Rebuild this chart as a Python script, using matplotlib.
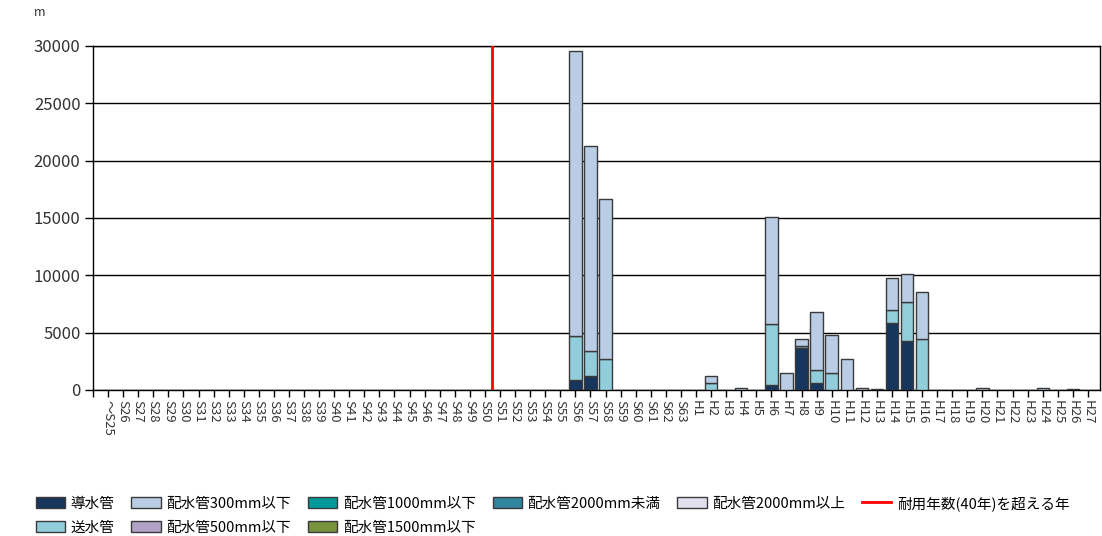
import numpy as np
import matplotlib
matplotlib.use("Agg")
import matplotlib.pyplot as plt
from matplotlib.patches import Patch
from matplotlib.lines import Line2D

plt.rcParams['font.family'] = ['Noto Sans CJK JP', 'DejaVu Sans']

# categories: ~S25, S26..S63, H1..H27
years = ['～S25'] + ['S%d' % n for n in range(26, 64)] + ['H%d' % n for n in range(1, 28)]

series_names = ['導水管', '送水管', '配水管300mm以下', '配水管500mm以下',
                '配水管1000mm以下', '配水管1500mm以下', '配水管2000mm未満', '配水管2000mm以上']
series_colors = ['#17365D', '#92CDDC', '#B9CDE5', '#B3A2C7',
                 '#009999', '#77933C', '#31859C', '#E4DFEC']

# values (m) by year label
dousui = {'S56': 900, 'S57': 1220, 'H6': 430, 'H8': 3700, 'H9': 580,
          'H13': 100, 'H14': 5820, 'H15': 4260, 'H26': 100}
sousui = {'S56': 3790, 'S57': 2140, 'S58': 2660, 'H2': 580, 'H6': 5300,
          'H8': 100, 'H9': 1190, 'H10': 1450, 'H14': 1160, 'H15': 3380, 'H16': 4490}
hai300 = {'S56': 24870, 'S57': 17890, 'S58': 13960, 'H2': 640, 'H4': 200,
          'H6': 9320, 'H7': 1450, 'H8': 690, 'H9': 5060, 'H10': 3380, 'H11': 2690,
          'H12': 200, 'H14': 2810, 'H15': 2490, 'H16': 4050, 'H20': 200, 'H24': 200}
hai500 = {}
hai1000 = {}
hai1500 = {}
hai2000_under = {}
hai2000_over = {}

series_data = [dousui, sousui, hai300, hai500, hai1000, hai1500, hai2000_under, hai2000_over]
limit_label = '耐用年数(40年)を超える年'
limit_pos = 25.5  # between S50 and S51

fig = plt.figure(figsize=(11.02, 5.36), dpi=100)
ax = fig.add_axes([93 / 1102, 1 - 390 / 536, 1007 / 1102, 344 / 536])

x = np.arange(len(years))
bottom = np.zeros(len(years))
for name, color, data in zip(series_names, series_colors, series_data):
    vals = np.array([data.get(y, 0) for y in years], dtype=float)
    idx = vals > 0
    if idx.any():
        ax.bar(x[idx], vals[idx], bottom=bottom[idx], width=0.82, color=color,
               edgecolor='#3a3a3a', linewidth=1.0, zorder=3)
    bottom += vals

ax.axvline(limit_pos, color='#FF0000', linewidth=2, zorder=4)

ax.set_ylim(0, 30000)
ax.set_xlim(-1, 65.8)
ax.set_yticks(np.arange(0, 30001, 5000))
ax.yaxis.grid(True, color='black', linewidth=1, zorder=1)
ax.set_axisbelow(True)
ax.set_xticks(np.arange(-1, 66))
ax.set_xticklabels([''] + years, rotation=-90, fontsize=9.5, color='#333333')
ax.tick_params(axis='x', direction='out', length=5, width=1, pad=2)
ax.tick_params(axis='y', direction='out', length=6, width=1, labelsize=12,
               labelcolor='#333333', pad=3)
for s in ax.spines.values():
    s.set_color('black')
    s.set_linewidth(1)

fig.text(34 / 1102, 1 - 13 / 536, 'm', fontsize=9, color='#333333', va='center')

# legend laid out column by column, two rows
blank = Patch(visible=False)
handles = [Patch(facecolor=c, edgecolor='#3a3a3a', linewidth=1) for c in series_colors]
red = Line2D([0], [0], color='#FF0000', linewidth=2)
leg_handles = handles[:7] + [blank, handles[7], blank, red, blank]
leg_labels = series_names[:7] + ['', series_names[7], '', limit_label, '']
fig.legend(leg_handles, leg_labels, loc='upper left', ncol=6,
           bbox_to_anchor=(30 / 1102, 1 - 490 / 536), frameon=False,
           fontsize=10.5, handlelength=2.0, handleheight=0.8, handletextpad=0.4,
           columnspacing=1.15, labelspacing=0.68, borderaxespad=0)

fig.savefig('out.png', dpi=100)
